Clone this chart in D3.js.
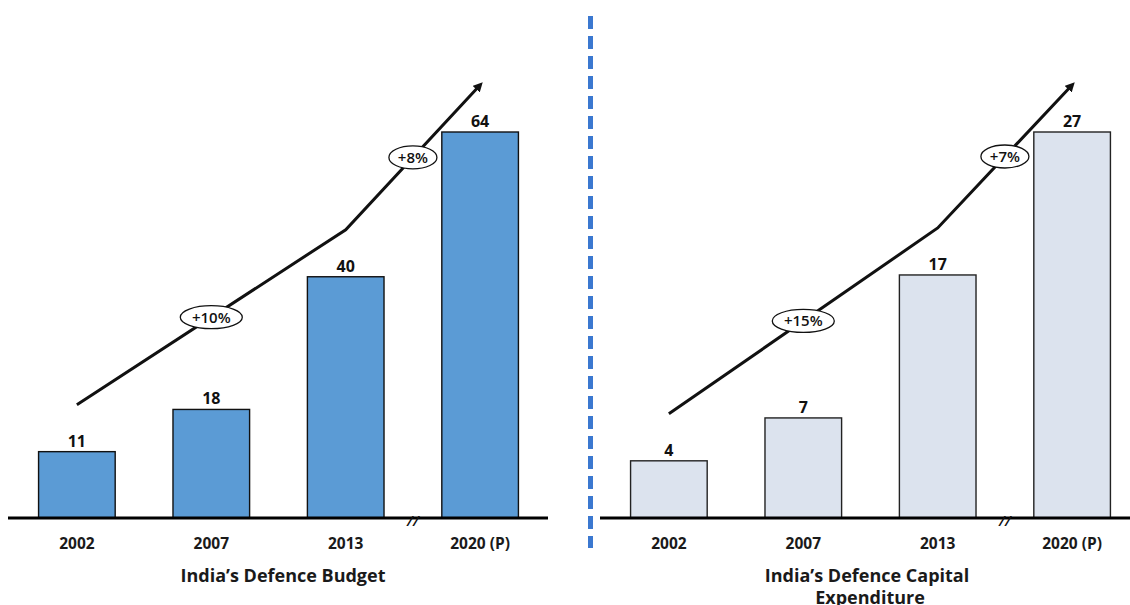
<!DOCTYPE html>
<html><head><meta charset="utf-8">
<script src="https://cdn.jsdelivr.net/npm/d3@7"></script>
<style>
html,body{margin:0;padding:0;background:#fff;}
svg{display:block;}
text{font-family:"Open Sans",Lato,sans-serif;}
</style></head>
<body>
<svg id="c" width="1130" height="605"></svg>
<script>
const categories = ["2002", "2007", "2013", "2020 (P)"];
const budgetValues = [11, 18, 40, 64];
const capexValues = [4, 7, 17, 27];
const budgetGrowth = ["+10%", "+8%"];
const capexGrowth = ["+15%", "+7%"];
const titles = [["India\u2019s Defence Budget"], ["India\u2019s Defence Capital", "Expenditure"]];

const svg = d3.select("#c");
const baseY = 518, topY = 132;

svg.append("defs").append("marker")
  .attr("id", "arr").attr("viewBox", "0 0 10 10").attr("refX", 6).attr("refY", 5)
  .attr("markerWidth", 3.2).attr("markerHeight", 3.2).attr("orient", "auto")
  .append("path").attr("d", "M0,0 L10,5 L0,10 Z").attr("fill", "#111");

function panel(opts) {
  const g = svg.append("g");
  const x = d3.scaleBand().domain(categories).range(opts.range).paddingInner(0.43).paddingOuter(0.22);
  const y = d3.scaleLinear().domain([0, d3.max(opts.values)]).range([baseY, topY]);
  const data = categories.map((c, i) => ({c, v: opts.values[i]}));

  g.selectAll("rect.bar").data(data).enter().append("rect")
    .attr("x", d => x(d.c)).attr("width", x.bandwidth())
    .attr("y", d => y(d.v)).attr("height", d => baseY - y(d.v))
    .attr("fill", opts.fill).attr("stroke", opts.stroke).attr("stroke-width", 1.4);

  g.selectAll("text.val").data(data).enter().append("text")
    .attr("x", d => x(d.c) + x.bandwidth() / 2).attr("y", d => y(d.v) - 5)
    .attr("text-anchor", "middle").attr("font-size", 16).attr("font-weight", 700)
    .attr("fill", "#111").text(d => d.v);

  const axis = d3.axisBottom(x).tickSize(0).tickPadding(0);
  const ag = g.append("g").attr("transform", `translate(0,${baseY})`).call(axis);
  ag.select(".domain").remove();
  ag.append("line").attr("x1", opts.axisX[0]).attr("x2", opts.axisX[1])
    .attr("y1", 0).attr("y2", 0).attr("stroke", "#000").attr("stroke-width", 3);
  ag.selectAll(".tick text").attr("font-size", 15.5).attr("font-weight", 700)
    .attr("fill", "#1a1a1a").attr("font-family", "'Open Sans', sans-serif")
    .attr("dy", null).attr("y", 31);

  const bx = (x(categories[2]) + x.bandwidth() + x(categories[3])) / 2;
  g.append("text").attr("x", bx).attr("y", baseY + 8).attr("text-anchor", "middle")
    .attr("font-size", 15).attr("font-weight", 600).attr("font-style", "italic").attr("fill", "#111").text("//");

  const cx = (opts.axisX[0] + opts.axisX[1]) / 2 + opts.titleShift;
  opts.title.forEach((t, i) => {
    g.append("text").attr("x", cx + (i ? 3 : 0)).attr("y", 582 + i * 22).attr("text-anchor", "middle")
      .attr("font-size", 18).attr("font-weight", 700).attr("fill", "#1a1a1a").text(t);
  });

  const idx = [0, 2, 3];
  const pts = idx.map(i => [x(categories[i]) + x.bandwidth() / 2, y(opts.values[i]) - 47]);
  g.append("path").attr("d", d3.line()(pts)).attr("fill", "none")
    .attr("stroke", "#111").attr("stroke-width", 3).attr("marker-end", "url(#arr)");

  opts.growth.forEach((t, i) => {
    const mx = (pts[i][0] + pts[i + 1][0]) / 2, my = (pts[i][1] + pts[i + 1][1]) / 2;
    const rx = t.length === 4 ? 31 : 24;
    g.append("ellipse").attr("cx", mx).attr("cy", my).attr("rx", rx).attr("ry", 11.5)
      .attr("fill", "#fff").attr("stroke", "#111").attr("stroke-width", 1.3);
    g.append("text").attr("x", mx).attr("y", my + 5.5).attr("text-anchor", "middle")
      .attr("font-size", 15).attr("font-weight", 600).attr("fill", "#111").text(t);
  });
}

panel({values: budgetValues, growth: budgetGrowth, range: [9, 548], axisX: [8, 548],
  fill: "#5B9BD5", stroke: "#111", title: titles[0], titleShift: 5});
panel({values: capexValues, growth: capexGrowth, range: [601, 1140], axisX: [600, 1130],
  fill: "#DCE3EE", stroke: "#222", title: titles[1], titleShift: 2});

svg.append("line").attr("x1", 590.5).attr("x2", 590.5).attr("y1", 16).attr("y2", 548)
  .attr("stroke", "#3B78D0").attr("stroke-width", 5).attr("stroke-dasharray", "13,7");
</script>
</body></html>
